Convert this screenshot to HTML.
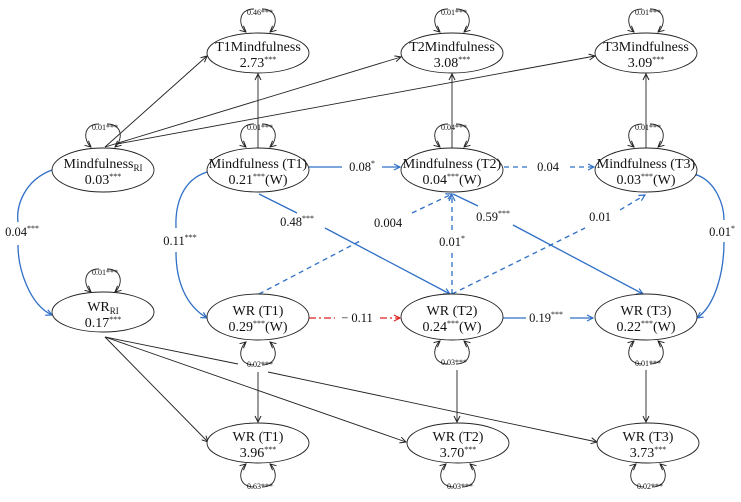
<!DOCTYPE html>
<html><head><meta charset="utf-8"><style>
body{margin:0;background:#fff}
svg{display:block;font-family:"Liberation Serif",serif}
.n{font-size:14px;text-anchor:middle}
.s{font-size:8px;text-anchor:middle}
.l{font-size:12.5px;text-anchor:middle}
</style></head><body>
<svg width="741" height="502" viewBox="0 0 741 502" xmlns="http://www.w3.org/2000/svg">
<defs>
<marker id="a" markerWidth="8" markerHeight="8" refX="7" refY="4" orient="auto" markerUnits="userSpaceOnUse"><path d="M1,1 L7,4 L1,7" fill="none" stroke="#222" stroke-width="1"/></marker>
<marker id="b" markerWidth="8" markerHeight="8" refX="7" refY="4" orient="auto" markerUnits="userSpaceOnUse"><path d="M1,1 L7,4 L1,7" fill="none" stroke="#2f6fc6" stroke-width="1.2"/></marker>
<marker id="r" markerWidth="8" markerHeight="8" refX="7" refY="4" orient="auto" markerUnits="userSpaceOnUse"><path d="M1,1 L7,4 L1,7" fill="none" stroke="#e02020" stroke-width="1.2"/></marker>
</defs>
<g fill="none" stroke="#222" stroke-width="0.9">
<!-- RI mindfulness to top -->
<line x1="105" y1="147" x2="207" y2="56" marker-end="url(#a)"/>
<line x1="105" y1="147" x2="401" y2="57" marker-end="url(#a)"/>
<line x1="117" y1="144" x2="595" y2="56" marker-end="url(#a)"/>
<line x1="258" y1="148" x2="258" y2="74" marker-end="url(#a)"/>
<line x1="452" y1="148" x2="452" y2="74" marker-end="url(#a)"/>
<line x1="646" y1="148" x2="646" y2="74" marker-end="url(#a)"/>
<!-- WR RI to bottom -->
<line x1="105" y1="337" x2="208" y2="442" marker-end="url(#a)"/>
<line x1="105" y1="337" x2="406" y2="442" marker-end="url(#a)"/>
<line x1="105" y1="337" x2="238" y2="364"/>
<line x1="268" y1="372" x2="597" y2="442" marker-end="url(#a)"/>
<line x1="258" y1="372" x2="258" y2="422" marker-end="url(#a)"/>
<line x1="457" y1="370" x2="457" y2="422" marker-end="url(#a)"/>
<line x1="646" y1="370" x2="646" y2="422" marker-end="url(#a)"/>
</g>
<g fill="none" stroke="#2f6fc6" stroke-width="1.3">
<line x1="309" y1="167" x2="342" y2="167"/>
<line x1="382" y1="167" x2="400" y2="167" marker-end="url(#b)"/>
<line x1="504" y1="167" x2="527" y2="167" stroke-dasharray="5,4"/>
<line x1="570" y1="167" x2="594" y2="167" stroke-dasharray="5,4" marker-end="url(#b)"/>
<line x1="259" y1="194" x2="297" y2="213"/>
<line x1="325" y1="228" x2="450" y2="294" marker-end="url(#b)"/>
<line x1="453" y1="194" x2="478" y2="206"/>
<line x1="513" y1="225" x2="643" y2="294" marker-end="url(#b)"/>
<line x1="259" y1="294" x2="360" y2="241" stroke-dasharray="5,4"/>
<line x1="412" y1="213" x2="452" y2="194" stroke-dasharray="5,4" marker-end="url(#b)"/>
<line x1="452" y1="294" x2="452" y2="252" stroke-dasharray="5,4"/>
<line x1="452" y1="230" x2="452" y2="195" stroke-dasharray="5,4" marker-end="url(#b)"/>
<line x1="452" y1="294" x2="585" y2="228" stroke-dasharray="5,4"/>
<line x1="620" y1="210" x2="645" y2="195" stroke-dasharray="5,4" marker-end="url(#b)"/>
<line x1="503" y1="318" x2="526" y2="318"/>
<line x1="570" y1="318" x2="593" y2="318" marker-end="url(#b)"/>
<path d="M52,170 C25,180 16,205 18,222" marker-start="url(#b)"/>
<path d="M18,245 C18,270 30,305 52,315" marker-end="url(#b)"/>
<path d="M207,172 C182,180 175,205 176,228" marker-start="url(#b)"/>
<path d="M176,252 C176,280 185,305 207,318" marker-end="url(#b)"/>
<path d="M697,175 C716,182 724,205 724,220" marker-start="url(#b)"/>
<path d="M724,242 C724,270 716,305 697,318" marker-end="url(#b)"/>
</g>
<g fill="none" stroke="#e02020" stroke-width="1.3" stroke-dasharray="7,3,2,3">
<line x1="309" y1="318" x2="335" y2="318"/>
<line x1="380" y1="318" x2="400" y2="318" marker-end="url(#r)"/>
</g>
<!-- self loops -->
<g fill="none" stroke="#222" stroke-width="0.9">
<path id="lt" d="M-4,-23 C-20,-24 -20,-8 -13,-1" marker-end="url(#a)"/>
</g>
<g fill="none" stroke="#222" stroke-width="0.9">
<g transform="translate(258,33)"><path d="M-4,-24 C-20,-24 -20,-8 -12,-1" marker-end="url(#a)"/><path d="M4,-24 C20,-24 20,-8 12,-1" marker-end="url(#a)"/></g>
<g transform="translate(452,33)"><path d="M-4,-24 C-20,-24 -20,-8 -12,-1" marker-end="url(#a)"/><path d="M4,-24 C20,-24 20,-8 12,-1" marker-end="url(#a)"/></g>
<g transform="translate(646,33)"><path d="M-4,-24 C-20,-24 -20,-8 -12,-1" marker-end="url(#a)"/><path d="M4,-24 C20,-24 20,-8 12,-1" marker-end="url(#a)"/></g>
<g transform="translate(103,148)"><path d="M-4,-24 C-20,-24 -20,-8 -12,-1" marker-end="url(#a)"/><path d="M4,-24 C20,-24 20,-8 12,-1" marker-end="url(#a)"/></g>
<g transform="translate(258,148)"><path d="M-4,-24 C-20,-24 -20,-8 -12,-1" marker-end="url(#a)"/><path d="M4,-24 C20,-24 20,-8 12,-1" marker-end="url(#a)"/></g>
<g transform="translate(452,148)"><path d="M-4,-24 C-20,-24 -20,-8 -12,-1" marker-end="url(#a)"/><path d="M4,-24 C20,-24 20,-8 12,-1" marker-end="url(#a)"/></g>
<g transform="translate(646,148)"><path d="M-4,-24 C-20,-24 -20,-8 -12,-1" marker-end="url(#a)"/><path d="M4,-24 C20,-24 20,-8 12,-1" marker-end="url(#a)"/></g>
<g transform="translate(103,293)"><path d="M-4,-24 C-20,-24 -20,-8 -12,-1" marker-end="url(#a)"/><path d="M4,-24 C20,-24 20,-8 12,-1" marker-end="url(#a)"/></g>
<g transform="translate(258,341)"><path d="M-4,24 C-20,24 -20,8 -12,1" marker-end="url(#a)"/><path d="M4,24 C20,24 20,8 12,1" marker-end="url(#a)"/></g>
<g transform="translate(452,340)"><path d="M-4,24 C-20,24 -20,8 -12,1" marker-end="url(#a)"/><path d="M4,24 C20,24 20,8 12,1" marker-end="url(#a)"/></g>
<g transform="translate(646,340)"><path d="M-4,24 C-20,24 -20,8 -12,1" marker-end="url(#a)"/><path d="M4,24 C20,24 20,8 12,1" marker-end="url(#a)"/></g>
<g transform="translate(258,463)"><path d="M-4,24 C-20,24 -20,8 -12,1" marker-end="url(#a)"/><path d="M4,24 C20,24 20,8 12,1" marker-end="url(#a)"/></g>
<g transform="translate(458,463)"><path d="M-4,24 C-20,24 -20,8 -12,1" marker-end="url(#a)"/><path d="M4,24 C20,24 20,8 12,1" marker-end="url(#a)"/></g>
<g transform="translate(648,463)"><path d="M-4,24 C-20,24 -20,8 -12,1" marker-end="url(#a)"/><path d="M4,24 C20,24 20,8 12,1" marker-end="url(#a)"/></g>
</g>
<!-- ellipses -->
<g fill="#fff" stroke="#222" stroke-width="0.9">
<ellipse cx="258" cy="53" rx="51" ry="20"/>
<ellipse cx="452" cy="53" rx="51" ry="20"/>
<ellipse cx="646" cy="53" rx="51" ry="20"/>
<ellipse cx="103" cy="170" rx="51" ry="22"/>
<ellipse cx="258" cy="170" rx="51" ry="22"/>
<ellipse cx="452" cy="170" rx="51" ry="22"/>
<ellipse cx="646" cy="170" rx="51" ry="22"/>
<ellipse cx="103" cy="312" rx="51" ry="20"/>
<ellipse cx="258" cy="317" rx="51" ry="23"/>
<ellipse cx="452" cy="317" rx="51" ry="23"/>
<ellipse cx="646" cy="317" rx="51" ry="23"/>
<ellipse cx="258" cy="443" rx="51" ry="20"/>
<ellipse cx="458" cy="443" rx="51" ry="20"/>
<ellipse cx="648" cy="443" rx="51" ry="20"/>
</g>
<g class="n" fill="#111">
<text x="258" y="51" class="n">T1Mindfulness</text><text x="258" y="67" class="n">2.73<tspan font-size="8" dy="-5">***</tspan></text>
<text x="452" y="51" class="n">T2Mindfulness</text><text x="452" y="67" class="n">3.08<tspan font-size="8" dy="-5">***</tspan></text>
<text x="646" y="51" class="n">T3Mindfulness</text><text x="646" y="67" class="n">3.09<tspan font-size="8" dy="-5">***</tspan></text>
<text x="103" y="168" class="n">Mindfulness<tspan font-size="9" dy="3">RI</tspan></text><text x="103" y="184" class="n">0.03<tspan font-size="8" dy="-5">***</tspan></text>
<text x="258" y="168" class="n">Mindfulness (T1)</text><text x="258" y="184" class="n">0.21<tspan font-size="8" dy="-5">***</tspan><tspan dy="5">(W)</tspan></text>
<text x="452" y="168" class="n">Mindfulness (T2)</text><text x="452" y="184" class="n">0.04<tspan font-size="8" dy="-5">***</tspan><tspan dy="5">(W)</tspan></text>
<text x="646" y="168" class="n">Mindfulness (T3)</text><text x="646" y="184" class="n">0.03<tspan font-size="8" dy="-5">***</tspan><tspan dy="5">(W)</tspan></text>
<text x="103" y="311" class="n">WR<tspan font-size="9" dy="3">RI</tspan></text><text x="103" y="327" class="n">0.17<tspan font-size="8" dy="-5">***</tspan></text>
<text x="258" y="315" class="n">WR (T1)</text><text x="258" y="331" class="n">0.29<tspan font-size="8" dy="-5">***</tspan><tspan dy="5">(W)</tspan></text>
<text x="452" y="315" class="n">WR (T2)</text><text x="452" y="331" class="n">0.24<tspan font-size="8" dy="-5">***</tspan><tspan dy="5">(W)</tspan></text>
<text x="646" y="315" class="n">WR (T3)</text><text x="646" y="331" class="n">0.22<tspan font-size="8" dy="-5">***</tspan><tspan dy="5">(W)</tspan></text>
<text x="258" y="441" class="n">WR (T1)</text><text x="258" y="457" class="n">3.96<tspan font-size="8" dy="-5">***</tspan></text>
<text x="458" y="441" class="n">WR (T2)</text><text x="458" y="457" class="n">3.70<tspan font-size="8" dy="-5">***</tspan></text>
<text x="648" y="441" class="n">WR (T3)</text><text x="648" y="457" class="n">3.73<tspan font-size="8" dy="-5">***</tspan></text>
</g>
<g fill="#111">
<text class="s" x="260" y="15">0.46***</text>
<text class="s" x="454" y="15">0.01***</text>
<text class="s" x="648" y="15">0.01***</text>
<text class="s" x="105" y="130">0.01***</text>
<text class="s" x="260" y="130">0.01***</text>
<text class="s" x="454" y="130">0.04***</text>
<text class="s" x="648" y="130">0.01***</text>
<text class="s" x="105" y="275">0.01***</text>
<text class="s" x="260" y="367">0.02***</text>
<text class="s" x="454" y="365">0.03***</text>
<text class="s" x="648" y="366">0.01***</text>
<text class="s" x="260" y="489">0.63***</text>
<text class="s" x="460" y="489">0.03***</text>
<text class="s" x="650" y="489">0.02***</text>
<text class="l" x="362" y="171">0.08<tspan font-size="8" dy="-5">*</tspan></text>
<text class="l" x="548" y="171">0.04</text>
<text class="l" x="297" y="226">0.48<tspan font-size="8" dy="-5">***</tspan></text>
<text class="l" x="493" y="221">0.59<tspan font-size="8" dy="-5">***</tspan></text>
<text class="l" x="388" y="227">0.004</text>
<text class="l" x="452" y="246">0.01<tspan font-size="8" dy="-5">*</tspan></text>
<text class="l" x="600" y="221">0.01</text>
<text class="l" x="357" y="322">− 0.11</text>
<text class="l" x="546" y="322">0.19<tspan font-size="8" dy="-5">***</tspan></text>
<text class="l" x="22" y="236">0.04<tspan font-size="8" dy="-5">***</tspan></text>
<text class="l" x="180" y="245">0.11<tspan font-size="8" dy="-5">***</tspan></text>
<text class="l" x="722" y="236">0.01<tspan font-size="8" dy="-5">*</tspan></text>
</g>
</svg>
</body></html>
